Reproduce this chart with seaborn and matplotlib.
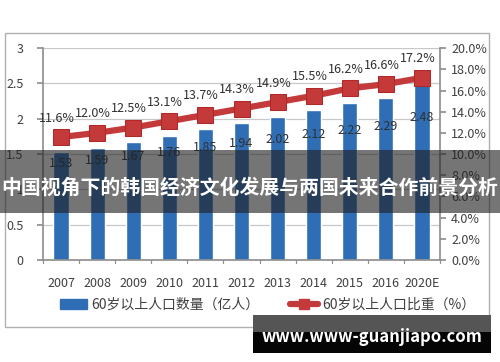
import numpy as np
import pandas as pd
import matplotlib
matplotlib.use("Agg")
import matplotlib.pyplot as plt
import seaborn as sns
from matplotlib.patches import Rectangle, Patch
from matplotlib.lines import Line2D

# ── data ──────────────────────────────────────────────────────────────────────
years = ["2007", "2008", "2009", "2010", "2011", "2012",
         "2013", "2014", "2015", "2016", "2020E"]
population = [1.53, 1.59, 1.67, 1.76, 1.85, 1.94, 2.02, 2.12, 2.22, 2.29, 2.48]
share_pct = [11.6, 12.0, 12.5, 13.1, 13.7, 14.3, 14.9, 15.5, 16.2, 16.6, 17.2]
bar_label = "60岁以上人口数量（亿人）"
line_label = "60岁以上人口比重（%）"
banner = "中国视角下的韩国经济文化发展与两国未来合作前景分析"
watermark = "www.www-guanjiapo.com"

df = pd.DataFrame({"year": years, "pop": population, "share": share_pct})

sns.set_theme(style="white")
plt.rcParams["font.family"] = ["Noto Sans CJK SC", "DejaVu Sans"]

BAR = "#2f6db5"
RED = "#c43a3a"
TXT = "#404040"

fig = plt.figure(figsize=(5, 3.62), dpi=100)
ax = fig.add_axes([0.086, 0.282, 0.794, 0.585])

# outer frame
fig.patches.append(Rectangle((0.010, 0.097), 0.968, 0.812, transform=fig.transFigure,
                             fill=False, edgecolor="#b0b0b0", lw=1.0, zorder=0))

sns.barplot(data=df, x="year", y="pop", color=BAR, width=0.42,
            saturation=1, ax=ax, zorder=2)
ax.set_ylim(0, 3)
ax.set_yticks(np.arange(0, 3.01, 0.5))
ax.set_yticklabels(["0", "0.5", "1", "1.5", "2", "2.5", "3"])
ax.yaxis.grid(True, color="#c8c8c8", lw=0.9)
ax.set_axisbelow(True)
ax.set_xlabel(""); ax.set_ylabel("")
for s in ["top", "right"]:
    ax.spines[s].set_visible(False)
ax.spines["left"].set_color("#909090")
ax.spines["bottom"].set_color("#909090")
ax.tick_params(axis="y", left=True, length=4, color="#909090", labelsize=9,
               labelcolor=TXT, pad=10)
ax.tick_params(axis="x", bottom=False, labelsize=9, labelcolor=TXT, pad=6)
ax.set_xlim(-0.5, len(years) - 0.5)
# tick marks between categories
for b in np.arange(-0.5, len(years), 1.0):
    ax.plot([b, b], [0, -0.05], color="#909090", lw=0.9, clip_on=False)

for i, v in enumerate(population):
    ax.text(i, 1.37 + (v - population[0]) * 0.68, f"{v:.2f}", ha="center",
            va="center", fontsize=9, color="#303030", zorder=3)

ax2 = ax.twinx()
xs = np.arange(len(years))
sns.lineplot(x=xs, y=share_pct, color=RED, lw=4.5, marker="s", markersize=11,
             markeredgecolor="#b02828", ax=ax2, zorder=4)
ax2.set_ylim(0, 20)
ax2.set_yticks(np.arange(0, 20.1, 2))
ax2.set_yticklabels([f"{t:.1f}%" for t in np.arange(0, 20.1, 2)])
ax2.tick_params(axis="y", right=True, length=4, color="#909090", labelsize=9,
                labelcolor=TXT, pad=4)
for s in ["top", "left", "bottom"]:
    ax2.spines[s].set_visible(False)
ax2.spines["right"].set_color("#909090")
ax2.grid(False)
for i, v in enumerate(share_pct):
    ax2.annotate(f"{v:.1f}%", (i, v), xytext=(-3, 9), textcoords="offset points",
                 ha="center", va="bottom", fontsize=9, color="#303030")

# legend
handles = [Patch(facecolor=BAR, edgecolor=BAR),
           Line2D([0], [0], color=RED, lw=4.5, marker="s", markersize=7)]
fig.legend(handles, [bar_label, line_label], loc="center", ncol=2,
           bbox_to_anchor=(0.535, 0.157), frameon=False, fontsize=10,
           handlelength=2.0, columnspacing=2.2, handletextpad=0.3,
           labelcolor=TXT)

# banner overlay
fig.patches.append(Rectangle((0, 1 - 213 / 362), 1, 63 / 362, transform=fig.transFigure,
                             facecolor="#202020", alpha=0.62, edgecolor="none", zorder=10))
fig.text(0.5, 1 - 187 / 362, banner, ha="center", va="center", color="white",
         fontsize=14.3, fontweight="bold", zorder=11)

# watermark box
fig.patches.append(Rectangle((253 / 500, 1 - 332 / 362), 238 / 500, 17 / 362,
                             transform=fig.transFigure, facecolor="#555555",
                             edgecolor="none", zorder=10))
fig.patches.append(Rectangle((253 / 500, 1 - 353 / 362), 238 / 500, 21 / 362,
                             transform=fig.transFigure, facecolor="#050505",
                             edgecolor="none", zorder=10))
fig.text(372 / 500, 1 - 337 / 362, watermark, ha="center", va="center",
         color="white", fontsize=12, fontweight="bold", zorder=11)

fig.savefig("out.png", dpi=100)
